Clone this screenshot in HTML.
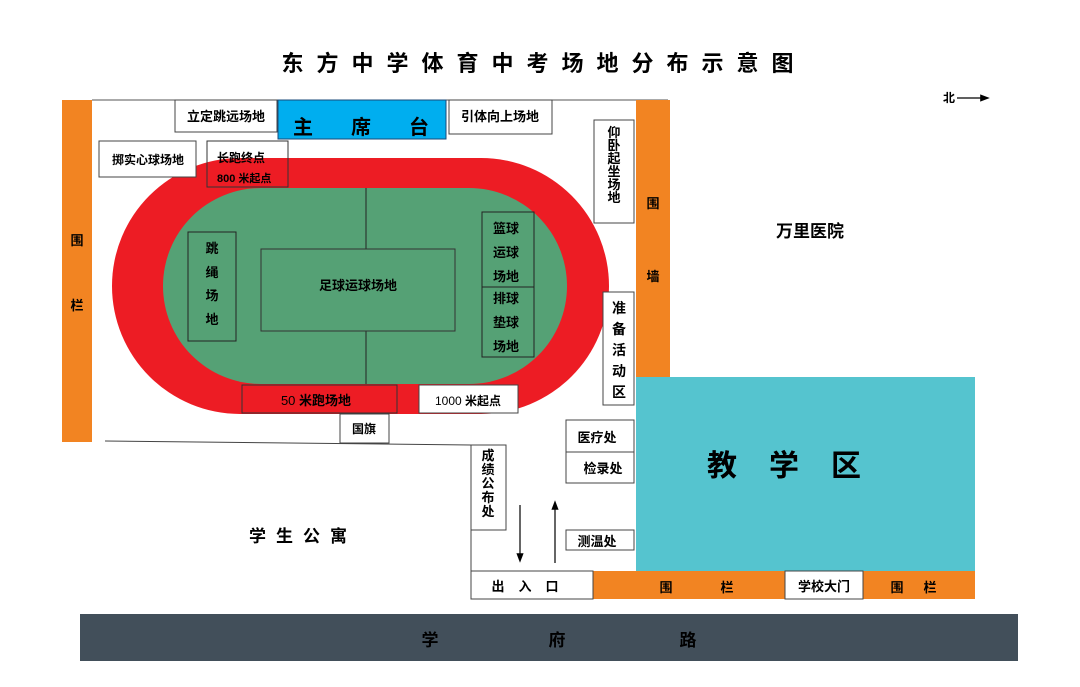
<!DOCTYPE html>
<html><head><meta charset="utf-8"><style>
html,body{margin:0;padding:0;background:#fff;}
svg{display:block;}
text{font-family:"Liberation Sans","Noto Sans CJK SC","WenQuanYi Zen Hei",sans-serif;font-weight:bold;fill:#000;}
</style></head><body>
<svg width="1080" height="687" viewBox="0 0 1080 687" xmlns="http://www.w3.org/2000/svg">
<defs><marker id="ah" markerWidth="8" markerHeight="8" refX="4" refY="4" orient="auto"><path d="M0,1 L8,4 L0,7 z" fill="#000"/></marker></defs>
<text x="544" y="71" font-size="22" text-anchor="middle" letter-spacing="13">东方中学体育中考场地分布示意图</text>
<text x="943" y="102" font-size="12">北</text>
<line x1="957" y1="98" x2="985" y2="98" stroke="#000" stroke-width="1.2" marker-end="url(#ah)"/>
<line x1="92" y1="100" x2="668" y2="100" stroke="#555" stroke-width="1"/>
<rect x="62" y="100" width="30" height="342" fill="#F28422"/>
<text x="77" y="245" font-size="13" text-anchor="middle">围</text>
<text x="77" y="310" font-size="13" text-anchor="middle">栏</text>
<rect x="636" y="100" width="34" height="277" fill="#F28422"/>
<text x="653" y="208" font-size="13" text-anchor="middle">围</text>
<text x="653" y="281" font-size="13" text-anchor="middle">墙</text>
<rect x="112" y="158" width="497" height="256" rx="128" fill="#ED1C24"/>
<rect x="163" y="188" width="404" height="196" rx="98" fill="#55A175"/>
<line x1="366" y1="188" x2="366" y2="249" stroke="#222" stroke-width="1"/>
<line x1="366" y1="331" x2="366" y2="384" stroke="#222" stroke-width="1"/>
<rect x="261" y="249" width="194" height="82" fill="none" stroke="#333" stroke-width="1"/>
<text x="358" y="290" font-size="13" text-anchor="middle">足球运球场地</text>
<rect x="188" y="232" width="48" height="109" fill="none" stroke="#222" stroke-width="1"/>
<text x="212" y="253" font-size="13" text-anchor="middle">跳</text>
<text x="212" y="277" font-size="13" text-anchor="middle">绳</text>
<text x="212" y="300" font-size="13" text-anchor="middle">场</text>
<text x="212" y="324" font-size="13" text-anchor="middle">地</text>
<rect x="482" y="212" width="52" height="75" fill="none" stroke="#222" stroke-width="1"/>
<rect x="482" y="287" width="52" height="70" fill="none" stroke="#222" stroke-width="1"/>
<text x="506" y="233" font-size="13" text-anchor="middle">篮球</text>
<text x="506" y="257" font-size="13" text-anchor="middle">运球</text>
<text x="506" y="281" font-size="13" text-anchor="middle">场地</text>
<text x="506" y="303" font-size="13" text-anchor="middle">排球</text>
<text x="506" y="327" font-size="13" text-anchor="middle">垫球</text>
<text x="506" y="351" font-size="13" text-anchor="middle">场地</text>
<rect x="278" y="100" width="168" height="39" fill="#00AEEF" stroke="#1a4a7a" stroke-width="1"/>
<text x="380" y="134" font-size="20" text-anchor="middle" letter-spacing="38">主席台</text>
<rect x="175" y="100" width="102" height="32" fill="#fff" stroke="#444"/>
<text x="226" y="121" font-size="13" text-anchor="middle">立定跳远场地</text>
<rect x="449" y="100" width="103" height="34" fill="#fff" stroke="#444"/>
<text x="500" y="121" font-size="13" text-anchor="middle">引体向上场地</text>
<rect x="99" y="141" width="97" height="36" fill="#fff" stroke="#444"/>
<text x="148" y="164" font-size="12" text-anchor="middle">掷实心球场地</text>
<rect x="207" y="141" width="81" height="46" fill="none" stroke="#333"/>
<text x="217" y="162" font-size="12">长跑终点</text>
<text x="217" y="182" font-size="11" font-weight="normal">800 <tspan font-weight="bold">米起点</tspan></text>
<rect x="594" y="120" width="40" height="103" fill="#fff" stroke="#444"/>
<text x="614" y="137" font-size="13" text-anchor="middle">仰</text>
<text x="614" y="150" font-size="13" text-anchor="middle">卧</text>
<text x="614" y="163" font-size="13" text-anchor="middle">起</text>
<text x="614" y="176" font-size="13" text-anchor="middle">坐</text>
<text x="614" y="189" font-size="13" text-anchor="middle">场</text>
<text x="614" y="202" font-size="13" text-anchor="middle">地</text>
<rect x="603" y="292" width="31" height="113" fill="#fff" stroke="#444"/>
<text x="619" y="313" font-size="14" text-anchor="middle">准</text>
<text x="619" y="334" font-size="14" text-anchor="middle">备</text>
<text x="619" y="355" font-size="14" text-anchor="middle">活</text>
<text x="619" y="376" font-size="14" text-anchor="middle">动</text>
<text x="619" y="397" font-size="14" text-anchor="middle">区</text>
<text x="810" y="237" font-size="17" text-anchor="middle">万里医院</text>
<rect x="242" y="385" width="155" height="28" fill="#ED1C24" stroke="#333"/>
<text x="316" y="405" font-size="13" text-anchor="middle"><tspan font-weight="normal">50 </tspan>米跑场地</text>
<rect x="419" y="385" width="99" height="28" fill="#fff" stroke="#444"/>
<text x="468" y="405" font-size="12" text-anchor="middle"><tspan font-weight="normal">1000 </tspan>米起点</text>
<rect x="340" y="414" width="49" height="29" fill="#fff" stroke="#444"/>
<text x="364" y="433" font-size="12" text-anchor="middle">国旗</text>
<rect x="636" y="377" width="339" height="194" fill="#55C4CF"/>
<text x="800" y="476" font-size="30" text-anchor="middle" letter-spacing="32">教学区</text>
<rect x="566" y="420" width="68" height="32" fill="#fff" stroke="#444"/>
<text x="597" y="442" font-size="13" text-anchor="middle">医疗处</text>
<rect x="566" y="452" width="68" height="31" fill="#fff" stroke="#444"/>
<text x="603" y="473" font-size="13" text-anchor="middle">检录处</text>
<rect x="566" y="530" width="68" height="20" fill="#fff" stroke="#444"/>
<text x="597" y="546" font-size="13" text-anchor="middle">测温处</text>
<line x1="105" y1="441" x2="471" y2="445" stroke="#444" stroke-width="1"/>
<line x1="471" y1="445" x2="471" y2="571" stroke="#444" stroke-width="1"/>
<rect x="471" y="445" width="35" height="85" fill="#fff" stroke="#444"/>
<text x="488" y="460" font-size="13" text-anchor="middle">成</text>
<text x="488" y="474" font-size="13" text-anchor="middle">绩</text>
<text x="488" y="488" font-size="13" text-anchor="middle">公</text>
<text x="488" y="502" font-size="13" text-anchor="middle">布</text>
<text x="488" y="516" font-size="13" text-anchor="middle">处</text>
<line x1="520" y1="505" x2="520" y2="558" stroke="#000" stroke-width="1.2" marker-end="url(#ah)"/>
<line x1="555" y1="563" x2="555" y2="505" stroke="#000" stroke-width="1.2" marker-end="url(#ah)"/>
<text x="303" y="542" font-size="17" text-anchor="middle" letter-spacing="10">学生公寓</text>
<rect x="593" y="571" width="382" height="28" fill="#F28422"/>
<rect x="471" y="571" width="122" height="28" fill="#fff" stroke="#444"/>
<text x="532" y="591" font-size="13" text-anchor="middle" letter-spacing="14">出入口</text>
<text x="666" y="592" font-size="13" text-anchor="middle">围</text>
<text x="727" y="592" font-size="13" text-anchor="middle">栏</text>
<rect x="785" y="571" width="78" height="28" fill="#fff" stroke="#444"/>
<text x="824" y="591" font-size="13" text-anchor="middle">学校大门</text>
<text x="897" y="592" font-size="13" text-anchor="middle">围</text>
<text x="930" y="592" font-size="13" text-anchor="middle">栏</text>
<rect x="80" y="614" width="938" height="47" fill="#424F5A"/>
<text x="430" y="646" font-size="17" text-anchor="middle">学</text>
<text x="557" y="646" font-size="17" text-anchor="middle">府</text>
<text x="688" y="646" font-size="17" text-anchor="middle">路</text>
</svg>
</body></html>
